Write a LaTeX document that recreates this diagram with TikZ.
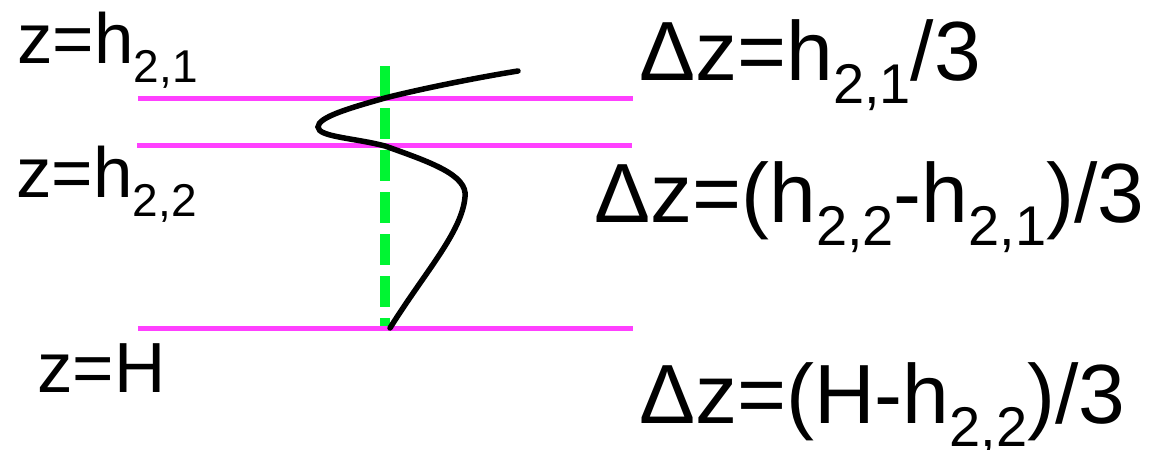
\documentclass[tikz,border=0pt]{standalone}
\usepackage{fontspec}
\setmainfont{Liberation Sans}
\definecolor{magline}{RGB}{255,64,255}
\definecolor{greenline}{RGB}{0,245,50}
\newcommand\lsub[1]{\raisebox{-19pt}{\fontsize{46}{46}\selectfont #1}}
\newcommand\rsub[1]{\raisebox{-23pt}{\fontsize{56}{56}\selectfont #1}}
\begin{document}
\begin{tikzpicture}[x=1pt,y=-1pt,
  lbl/.style={anchor=base west,inner sep=0pt,font=\fontsize{71}{71}\selectfont},
  rlbl/.style={anchor=base west,inner sep=0pt,font=\fontsize{84}{84}\selectfont},
  level/.style={draw=magline,line width=5pt},
  axis/.style={draw=greenline,line width=10pt,dash pattern=on 31pt off 11pt},
  prof/.style={draw=black,line width=5.5pt,line cap=round}]
\useasboundingbox (0,0) rectangle (1160,450);
% coordinates
\coordinate (l1a) at (138,98);  \coordinate (l1b) at (633,98);
\coordinate (l2a) at (137,145); \coordinate (l2b) at (632,145);
\coordinate (l3a) at (138,328); \coordinate (l3b) at (633,328);
\coordinate (gtop) at (385,66); \coordinate (gbot) at (385,328);
% green dashed axis
\draw[axis] (gtop) -- (gbot);
% levels
\draw[level] (l1a) -- (l1b);
\draw[level] (l2a) -- (l2b);
\draw[level] (l3a) -- (l3b);
% profile curve
\coordinate (p0) at (518,71);
\coordinate (p1) at (385,98);
\coordinate (p2) at (318,127);
\coordinate (p3) at (385,146);
\coordinate (p4) at (465,197);
\coordinate (p5) at (390,328);
\draw[prof] (p0) .. controls (480,77) and (420,89) .. (p1)
  .. controls (350,108) and (318,117) .. (p2)
  .. controls (318,137) and (355,138) .. (p3)
  .. controls (430,162) and (468,175) .. (p4)
  .. controls (462,232) and (425,272) .. (p5);
% labels
\node[lbl] (zh1) at (17,63) {z=h\lsub{2,1}};
\node[lbl] (zh2) at (16,197) {z=h\lsub{2,2}};
\node[lbl] (zH) at (37,392) {z=H};
\node[rlbl] (dz1) at (639,80) {Δz=h\rsub{2,1}/3};
\node[rlbl] (dz2) at (594,222) {Δz=(h\rsub{2,2}-h\rsub{2,1})/3};
\node[rlbl] (dz3) at (639,423) {Δz=(H-h\rsub{2,2})/3};
\end{tikzpicture}
\end{document}
